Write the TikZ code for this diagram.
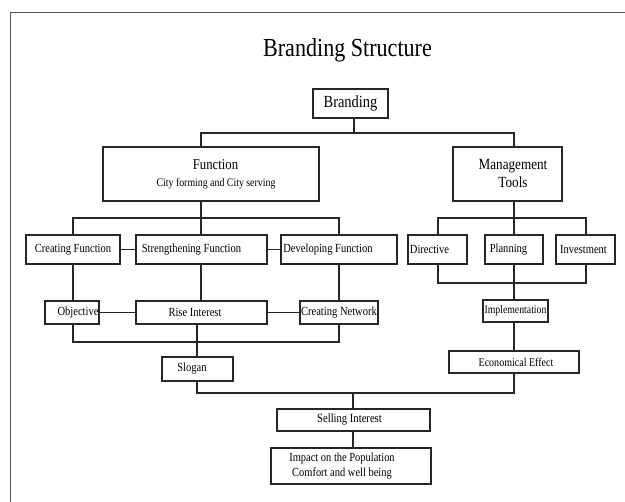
\documentclass[tikz,border=0pt]{standalone}
\usepackage{fontspec}
\setmainfont{Liberation Serif}[FakeStretch=0.85]
\newcommand\mv[2]{\hspace*{#1}#2\hspace*{-#1}}
\begin{document}
\begin{tikzpicture}[x=1pt,y=-1pt,
  frame/.style={draw=black!65, line width=1pt},
  box/.style={draw=black!85, line width=1.1pt, inner sep=0pt, text=black,
              font=\fontsize{12.4}{14}\selectfont},
  conn/.style={draw=black!85, line width=1.1pt}]
\useasboundingbox (0,0) rectangle (625,502);
\draw[frame] (10,502) -- (10,13) -- (625,13);
\node[anchor=base, inner sep=0pt, font=\fontsize{26}{30}\selectfont] (title) at (347.5,57) {Branding Structure};

% nodes
\node[box, minimum width=75pt, minimum height=29pt, font=\fontsize{17}{20}\selectfont] (br) at (350.5,103.5) {Branding};
\node[box, minimum width=216pt, minimum height=54pt, align=center] (fn) at (211,174)
  {{\fontsize{15}{18}\selectfont\mv{4.5pt}{Function}}\\[3pt]{\fontsize{11.6}{13}\selectfont\mv{5pt}{City forming and City serving}}};
\node[box, minimum width=109pt, minimum height=54pt, align=center, font=\fontsize{15.5}{18}\selectfont] (mt) at (507.5,174)
  {\mv{5.5pt}{Management}\\\mv{5.5pt}{Tools}};

\node[box, minimum width=94pt, minimum height=29pt] (cf) at (73,249.5) {Creating Function};
\node[box, minimum width=131pt, minimum height=29pt] (sf) at (201.5,249.5) {\mv{-10pt}{Strengthening Function}};
\node[box, minimum width=116pt, minimum height=29pt] (df) at (339,249.5) {\mv{-11pt}{Developing Function}};
\node[box, minimum width=59pt, minimum height=29pt] (di) at (437.5,249.5) {\mv{-8pt}{Directive}};
\node[box, minimum width=58pt, minimum height=29pt] (pl) at (514,249.5) {\mv{-5.5pt}{Planning}};
\node[box, minimum width=59pt, minimum height=29pt] (iv) at (585.5,249.5) {\mv{-2pt}{Investment}};

\node[box, minimum width=54pt, minimum height=23pt] (ob) at (72,312.5) {\mv{6pt}{Objective}};
\node[box, minimum width=131pt, minimum height=23pt] (ri) at (201.5,312.5) {\mv{-6.5pt}{Rise Interest}};
\node[box, minimum width=78pt, minimum height=23pt] (cn) at (339,312.5) {Creating Network};

\node[box, minimum width=65pt, minimum height=22pt, font=\fontsize{11.5}{13}\selectfont] (im) at (515.5,311) {Implementation};
\node[box, minimum width=130pt, minimum height=22pt, font=\fontsize{11.8}{13}\selectfont] (ee) at (514,362) {\mv{2pt}{Economical Effect}};
\node[box, minimum width=71pt, minimum height=24pt] (sl) at (197.5,369) {\mv{-5.5pt}{Slogan}};
\node[box, minimum width=153pt, minimum height=22pt, font=\fontsize{12.5}{14}\selectfont] (si) at (353.5,420) {\mv{-4pt}{Selling Interest}};
\node[box, minimum width=160pt, minimum height=36pt, align=center, font=\fontsize{12.3}{15}\selectfont] (ip) at (351,466)
  {\mv{-9pt}{Impact on the Population}\\\mv{-9pt}{Comfort and well being}};

% junction coordinates
\coordinate (xF) at (201,0);
\coordinate (xM) at (514,0);
\coordinate (xC) at (73,0);
\coordinate (xD) at (339,0);
\coordinate (xDir) at (438,0);
\coordinate (xInv) at (586,0);
\coordinate (xR) at (197,0);
\coordinate (b1) at (354,133);
\coordinate (b2) at (201,218);
\coordinate (b3) at (514,218);
\coordinate (b4) at (197,342);
\coordinate (b5) at (514,283);
\coordinate (b6) at (353,393);

% connectors
\draw[conn] (br.south -| b1) -- (b1);
\draw[conn] (fn.north -| xF) |- (b1) -| (mt.north -| xM);

\draw[conn] (fn.south -| xF) -- (sf.north -| xF);
\draw[conn] (cf.north -| xC) |- (b2) -| (df.north -| xD);
\draw[conn] (mt.south -| xM) -- (pl.north -| xM);
\draw[conn] (di.north -| xDir) |- (b3) -| (iv.north -| xInv);

\draw[conn] (cf.east) -- (sf.west);
\draw[conn] (sf.east) -- (df.west);

\draw[conn] (cf.south -| xC) -- (ob.north -| xC);
\draw[conn] (sf.south -| xF) -- (ri.north -| xF);
\draw[conn] (df.south -| xD) -- (cn.north -| xD);
\draw[conn] (ob.east) -- (ri.west);
\draw[conn] (ri.east) -- (cn.west);
\draw[conn] (ob.south -| xC) |- (b4) -| (cn.south -| xD);
\draw[conn] (ri.south -| xR) -- (sl.north -| xR);

\draw[conn] (di.south -| xDir) |- (b5) -| (iv.south -| xInv);
\draw[conn] (pl.south -| xM) -- (im.north -| xM);
\draw[conn] (im.south -| xM) -- (ee.north -| xM);

\draw[conn] (sl.south -| xR) |- (b6) -| (ee.south -| xM);
\draw[conn] (si.north -| b6) -- (b6);
\draw[conn] (si.south -| b6) -- (ip.north -| b6);
\end{tikzpicture}
\end{document}
